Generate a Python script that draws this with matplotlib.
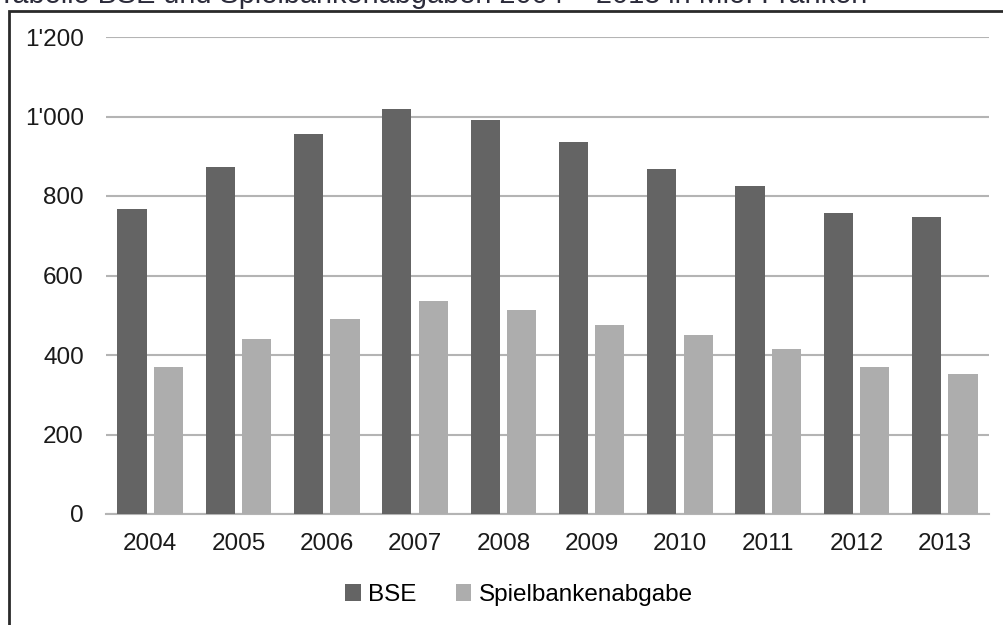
import numpy as np
import matplotlib.pyplot as plt
from matplotlib.patches import Rectangle
from matplotlib.ticker import FuncFormatter

plt.rcParams['font.family'] = ['Liberation Sans', 'DejaVu Sans']

# Jahresreihe und Werte in Mio. Franken
years = ['2004', '2005', '2006', '2007', '2008', '2009', '2010', '2011', '2012', '2013']
bse = [768, 872, 955, 1018, 990, 936, 867, 825, 758, 746]
spielbankenabgabe = [369, 440, 491, 536, 514, 476, 450, 416, 369, 353]

fig = plt.figure(figsize=(10.04, 6.25), dpi=100)
ax = fig.add_axes([0.1056, 0.1776, 0.8794, 0.7632])

x = np.arange(len(years))
width = 0.33
offset = 0.206

ax.bar(x - offset, bse, width, color='#646464', label='BSE', zorder=3)
ax.bar(x + offset, spielbankenabgabe, width, color='#adadad', label='Spielbankenabgabe', zorder=3)

ax.set_xlim(-0.5, len(years) - 0.5)
ax.set_ylim(0, 1200)
ax.set_yticks(np.arange(0, 1201, 200))
ax.yaxis.set_major_formatter(FuncFormatter(lambda v, _: f"{int(v):,}".replace(',', "'")))
ax.set_xticks(x)
ax.set_xticklabels(years)

ax.grid(axis='y', color='#b4b4b4', linewidth=1.5, zorder=0)
for side in ['top', 'right', 'left']:
    ax.spines[side].set_visible(False)
ax.spines['bottom'].set_color('#b4b4b4')
ax.spines['bottom'].set_linewidth(1.5)
ax.tick_params(axis='both', length=0, labelsize=17.5, colors='#1a1a1a')
ax.tick_params(axis='y', pad=16)
ax.tick_params(axis='x', pad=14)

fig.legend(loc='center', bbox_to_anchor=(0.517, 0.048), ncol=2, frameon=False,
           fontsize=17.5, handlelength=0.65, handleheight=0.65, handletextpad=0.3,
           columnspacing=1.6)

# Rahmen um das Diagramm, rechts und unten ausserhalb des Bildes
fig.patches.append(Rectangle((9 / 1004, -0.1), 1.2, 1 - 11 / 625 + 0.1,
                             transform=fig.transFigure, fill=False,
                             edgecolor='#2a2a2a', linewidth=2))

# Titelzeile, am oberen Rand angeschnitten
fig.text(-0.002, 1 - 3 / 625, 'Tabelle BSE und Spielbankenabgaben 2004 – 2013 in Mio. Franken',
         fontsize=20.8, color='#2b2b3a', va='baseline', ha='left')

fig.savefig('out.png', dpi=100)
